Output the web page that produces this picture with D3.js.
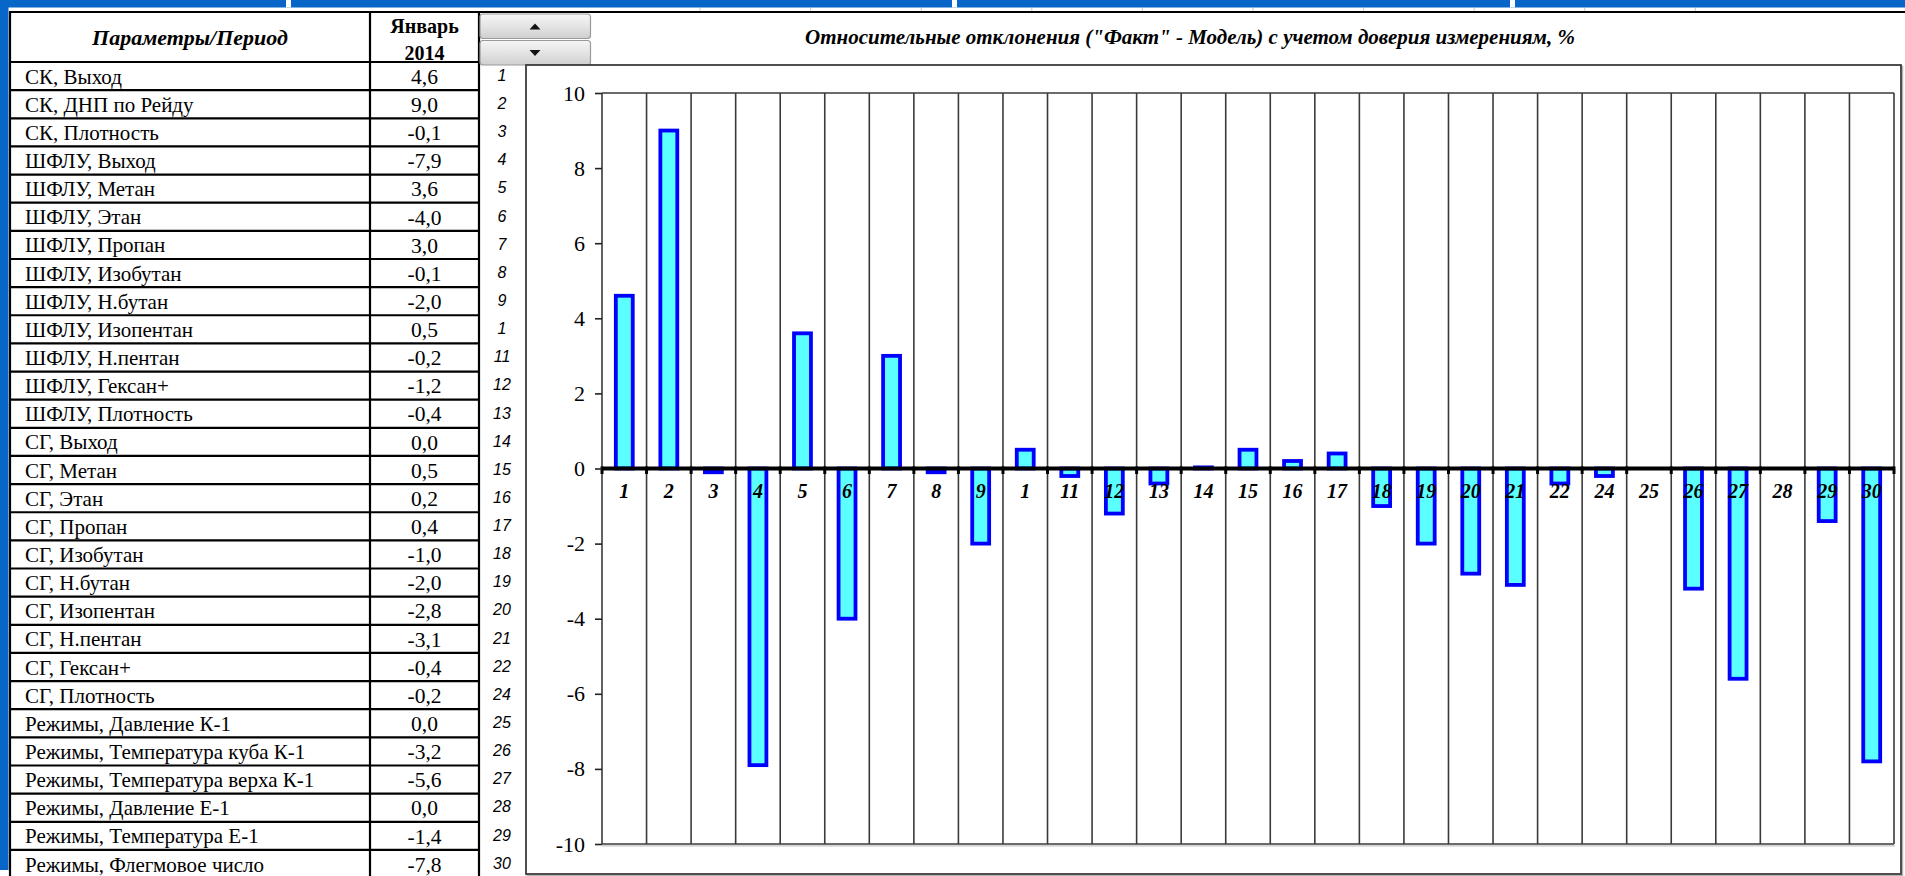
<!DOCTYPE html>
<html>
<head>
<meta charset="utf-8">
<script src="https://cdn.jsdelivr.net/npm/d3@7/dist/d3.min.js"></script>
<style>
  html, body { margin: 0; padding: 0; background: #ffffff; overflow: hidden; }
  svg { display: block; }
</style>
</head>
<body>
<div id="root"></div>
<script>
// ---- data ----
const params = [
  "СК, Выход", "СК, ДНП по Рейду", "СК, Плотность",
  "ШФЛУ, Выход", "ШФЛУ, Метан", "ШФЛУ, Этан", "ШФЛУ, Пропан", "ШФЛУ, Изобутан",
  "ШФЛУ, Н.бутан", "ШФЛУ, Изопентан", "ШФЛУ, Н.пентан", "ШФЛУ, Гексан+", "ШФЛУ, Плотность",
  "СГ, Выход", "СГ, Метан", "СГ, Этан", "СГ, Пропан", "СГ, Изобутан", "СГ, Н.бутан",
  "СГ, Изопентан", "СГ, Н.пентан", "СГ, Гексан+", "СГ, Плотность",
  "Режимы, Давление К-1", "Режимы, Температура куба К-1", "Режимы, Температура верха К-1",
  "Режимы, Давление Е-1", "Режимы, Температура Е-1", "Режимы, Флегмовое число"
];
const deviations = [
  4.6, 9.0, -0.1,
  -7.9, 3.6, -4.0, 3.0, -0.1,
  -2.0, 0.5, -0.2, -1.2, -0.4,
  0.03, 0.5, 0.2, 0.4, -1.0, -2.0,
  -2.8, -3.1, -0.4, -0.2,
  0.0, -3.2, -5.6,
  0.0, -1.4, -7.8
];
const rowNumbers = [
  "1", "2", "3", "4", "5", "6", "7", "8", "9", "1",
  "11", "12", "13", "14", "15", "16", "17", "18", "19", "20",
  "21", "22", "24", "25", "26", "27", "28", "29", "30"
];
const yTicks = [10, 8, 6, 4, 2, 0, -2, -4, -6, -8, -10];
const headerParam = "Параметры/Период";
const headerPeriod = ["Январь", "2014"];
const chartTitle = "Относительные отклонения (\"Факт\" - Модель) с учетом доверия измерениям, %";

// ---- layout ----
const W = 1905, H = 876;
const BLUE = "#0766c8";
const SERIF = "'Liberation Serif', 'Times New Roman', serif";
const SANS = "'Liberation Sans', Arial, sans-serif";

const tbl = { x0: 10, x1: 370, x2: 479, top: 12, head: 62, rowH: 28.14 };
const frame = { x: 526, y: 65, w: 1375, h: 809 };
const plot = { left: 602, right: 1894, top: 93, bottom: 844 };

const ru = d3.formatLocale({ decimal: ",", thousands: " ", grouping: [3], currency: ["", ""], minus: "-" });
const fmtVal = ru.format(".1f");
const fmtTick = ru.format("d");

const svg = d3.select("#root").append("svg")
  .attr("width", W).attr("height", H)
  .attr("viewBox", `0 0 ${W} ${H}`);

// page frame
svg.append("rect").attr("x", 0).attr("y", 0).attr("width", W).attr("height", H).attr("fill", "#ffffff");
svg.append("rect").attr("x", 0).attr("y", 0).attr("width", W).attr("height", 7.5).attr("fill", BLUE);
svg.append("rect").attr("x", 0).attr("y", 0).attr("width", 8.5).attr("height", 870).attr("fill", BLUE);
// small light glyph ends peeking into the top band
[[286, 5], [952, 5], [1510, 5]].forEach(([x, w]) => {
  svg.append("rect").attr("x", x).attr("y", 0).attr("width", w).attr("height", 7.5).attr("fill", "#ffffff");
});
// sheet column marks along the top rule
d3.range(10).forEach(i => {
  const x = 700 + i * 110.6;
  svg.append("line").attr("x1", x).attr("x2", x).attr("y1", 8).attr("y2", 11)
    .attr("stroke", "#c8c8c8").attr("stroke-width", 1);
});

// ---- table ----
const g = svg.append("g");
const rowTop = i => tbl.head + i * tbl.rowH;

// header texts
g.append("text").attr("x", (tbl.x0 + tbl.x1) / 2).attr("y", 45)
  .attr("text-anchor", "middle").attr("font-family", SERIF).attr("font-size", 22)
  .attr("font-weight", "bold").attr("font-style", "italic").attr("fill", "#000")
  .text(headerParam);
headerPeriod.forEach((t, i) => {
  g.append("text").attr("x", (tbl.x1 + tbl.x2) / 2).attr("y", 33 + i * 26.5)
    .attr("text-anchor", "middle").attr("font-family", SERIF).attr("font-size", 20)
    .attr("font-weight", "bold").attr("fill", "#000").text(t);
});

// rows
params.forEach((p, i) => {
  const cy = rowTop(i) + tbl.rowH / 2;
  g.append("text").attr("x", 25).attr("y", cy).attr("dy", "0.36em")
    .attr("font-family", SERIF).attr("font-size", 21).attr("fill", "#000").text(p);
  g.append("text").attr("x", (tbl.x1 + tbl.x2) / 2).attr("y", cy).attr("dy", "0.36em")
    .attr("text-anchor", "middle").attr("font-family", SERIF).attr("font-size", 21.5)
    .attr("fill", "#000").text(fmtVal(deviations[i]));
  g.append("text").attr("x", 502).attr("y", cy - 1).attr("dy", "0.36em")
    .attr("text-anchor", "middle").attr("font-family", SANS).attr("font-size", 16)
    .attr("font-style", "italic").attr("fill", "#000").text(rowNumbers[i]);
});

// table rules
const rules = g.append("g").attr("stroke", "#000").attr("stroke-width", 2.2);
rules.append("line").attr("x1", tbl.x0).attr("x2", W).attr("y1", tbl.top).attr("y2", tbl.top);
d3.range(params.length).forEach(i => {
  const y = rowTop(i);
  rules.append("line").attr("x1", tbl.x0).attr("x2", tbl.x2).attr("y1", y).attr("y2", y);
});
[tbl.x0, tbl.x1, tbl.x2].forEach(x => {
  rules.append("line").attr("x1", x).attr("x2", x).attr("y1", tbl.top - 1).attr("y2", H);
});

// ---- scroll buttons ----
const defs = svg.append("defs");
const grad = defs.append("linearGradient").attr("id", "btn").attr("x1", 0).attr("x2", 0).attr("y1", 0).attr("y2", 1);
grad.append("stop").attr("offset", "0%").attr("stop-color", "#f6f6f6");
grad.append("stop").attr("offset", "55%").attr("stop-color", "#e2e2e2");
grad.append("stop").attr("offset", "100%").attr("stop-color", "#cfcfcf");
[[14, -1], [40.5, 1]].forEach(([y, dir]) => {
  svg.append("rect").attr("x", 480).attr("y", y).attr("width", 110.5).attr("height", 24.5)
    .attr("rx", 3).attr("fill", "url(#btn)").attr("stroke", "#9a9a9a").attr("stroke-width", 1.2);
  const cx = 535, cy = y + 12.5;
  const pts = dir < 0
    ? [[cx - 5.5, cy + 3], [cx + 5.5, cy + 3], [cx, cy - 3]]
    : [[cx - 5.5, cy - 3], [cx + 5.5, cy - 3], [cx, cy + 3]];
  svg.append("polygon").attr("points", pts.map(p => p.join(",")).join(" ")).attr("fill", "#111");
});

// ---- chart ----
svg.append("text").attr("x", 1190).attr("y", 44)
  .attr("text-anchor", "middle").attr("font-family", SERIF).attr("font-size", 21)
  .attr("font-weight", "bold").attr("font-style", "italic").attr("fill", "#000")
  .text(chartTitle);

// chart frame with soft shadow
svg.append("rect").attr("x", frame.x + 1.5).attr("y", frame.y + 1.5).attr("width", frame.w).attr("height", frame.h)
  .attr("fill", "none").attr("stroke", "#b4b4b4").attr("stroke-width", 1.5);
svg.append("rect").attr("x", frame.x).attr("y", frame.y).attr("width", frame.w).attr("height", frame.h)
  .attr("fill", "#ffffff").attr("stroke", "#3c3c3c").attr("stroke-width", 1.8);

const n = deviations.length;
const xCat = d3.scaleBand().domain(d3.range(n)).range([plot.left, plot.right]).padding(0);
const xBar = d3.scaleBand().domain(d3.range(n)).range([plot.left, plot.right])
  .paddingInner(0.62).paddingOuter(0.31);
const y = d3.scaleLinear().domain([-10, 10]).range([plot.bottom, plot.top]);

const chart = svg.append("g");

// category dividers
const bounds = d3.range(n + 1).map(i => plot.left + i * xCat.step());
chart.append("g").selectAll("line").data(bounds).join("line")
  .attr("x1", d => d).attr("x2", d => d).attr("y1", y(10)).attr("y2", y(-10))
  .attr("stroke", "#3a3a3a").attr("stroke-width", 1.6);
[10, -10].forEach(v => {
  chart.append("line").attr("x1", plot.left).attr("x2", plot.right).attr("y1", y(v)).attr("y2", y(v))
    .attr("stroke", "#3a3a3a").attr("stroke-width", 1.6);
});
chart.append("line").attr("x1", plot.left).attr("x2", plot.right + 1).attr("y1", y(-10) + 1.8).attr("y2", y(-10) + 1.8)
  .attr("stroke", "#c4c4c4").attr("stroke-width", 1.2);

// bars
chart.append("g").selectAll("rect").data(deviations).join("rect")
  .attr("x", (d, i) => xBar(i))
  .attr("width", xBar.bandwidth())
  .attr("y", d => y(Math.max(0, d)))
  .attr("height", d => Math.abs(y(d) - y(0)))
  .attr("fill", "#5cffff")
  .attr("stroke", "#0000ff")
  .attr("stroke-width", 3.8);

// zero line with tick marks
chart.append("line").attr("x1", plot.left).attr("x2", plot.right).attr("y1", y(0)).attr("y2", y(0))
  .attr("stroke", "#000").attr("stroke-width", 3.8);
chart.append("g").selectAll("line").data(bounds).join("line")
  .attr("x1", d => d).attr("x2", d => d).attr("y1", y(0) - 2).attr("y2", y(0) + 5.5)
  .attr("stroke", "#000").attr("stroke-width", 3);

// category labels
chart.append("g").selectAll("text").data(rowNumbers).join("text")
  .attr("x", (d, i) => xCat(i) + xCat.bandwidth() / 2)
  .attr("y", y(0) + 29)
  .attr("text-anchor", "middle").attr("font-family", SERIF).attr("font-size", 20)
  .attr("font-weight", "bold").attr("font-style", "italic").attr("fill", "#000")
  .text(d => d);

// value axis
const yAxis = d3.axisLeft(y).tickValues(yTicks).tickFormat(fmtTick).tickSize(7).tickPadding(10);
const ya = svg.append("g").attr("transform", `translate(${plot.left},0)`).call(yAxis);
ya.select(".domain").remove();
ya.selectAll(".tick line").attr("stroke", "#222").attr("stroke-width", 1.6);
ya.selectAll(".tick text").attr("font-family", SERIF).attr("font-size", 22).attr("fill", "#000");
</script>
</body>
</html>
